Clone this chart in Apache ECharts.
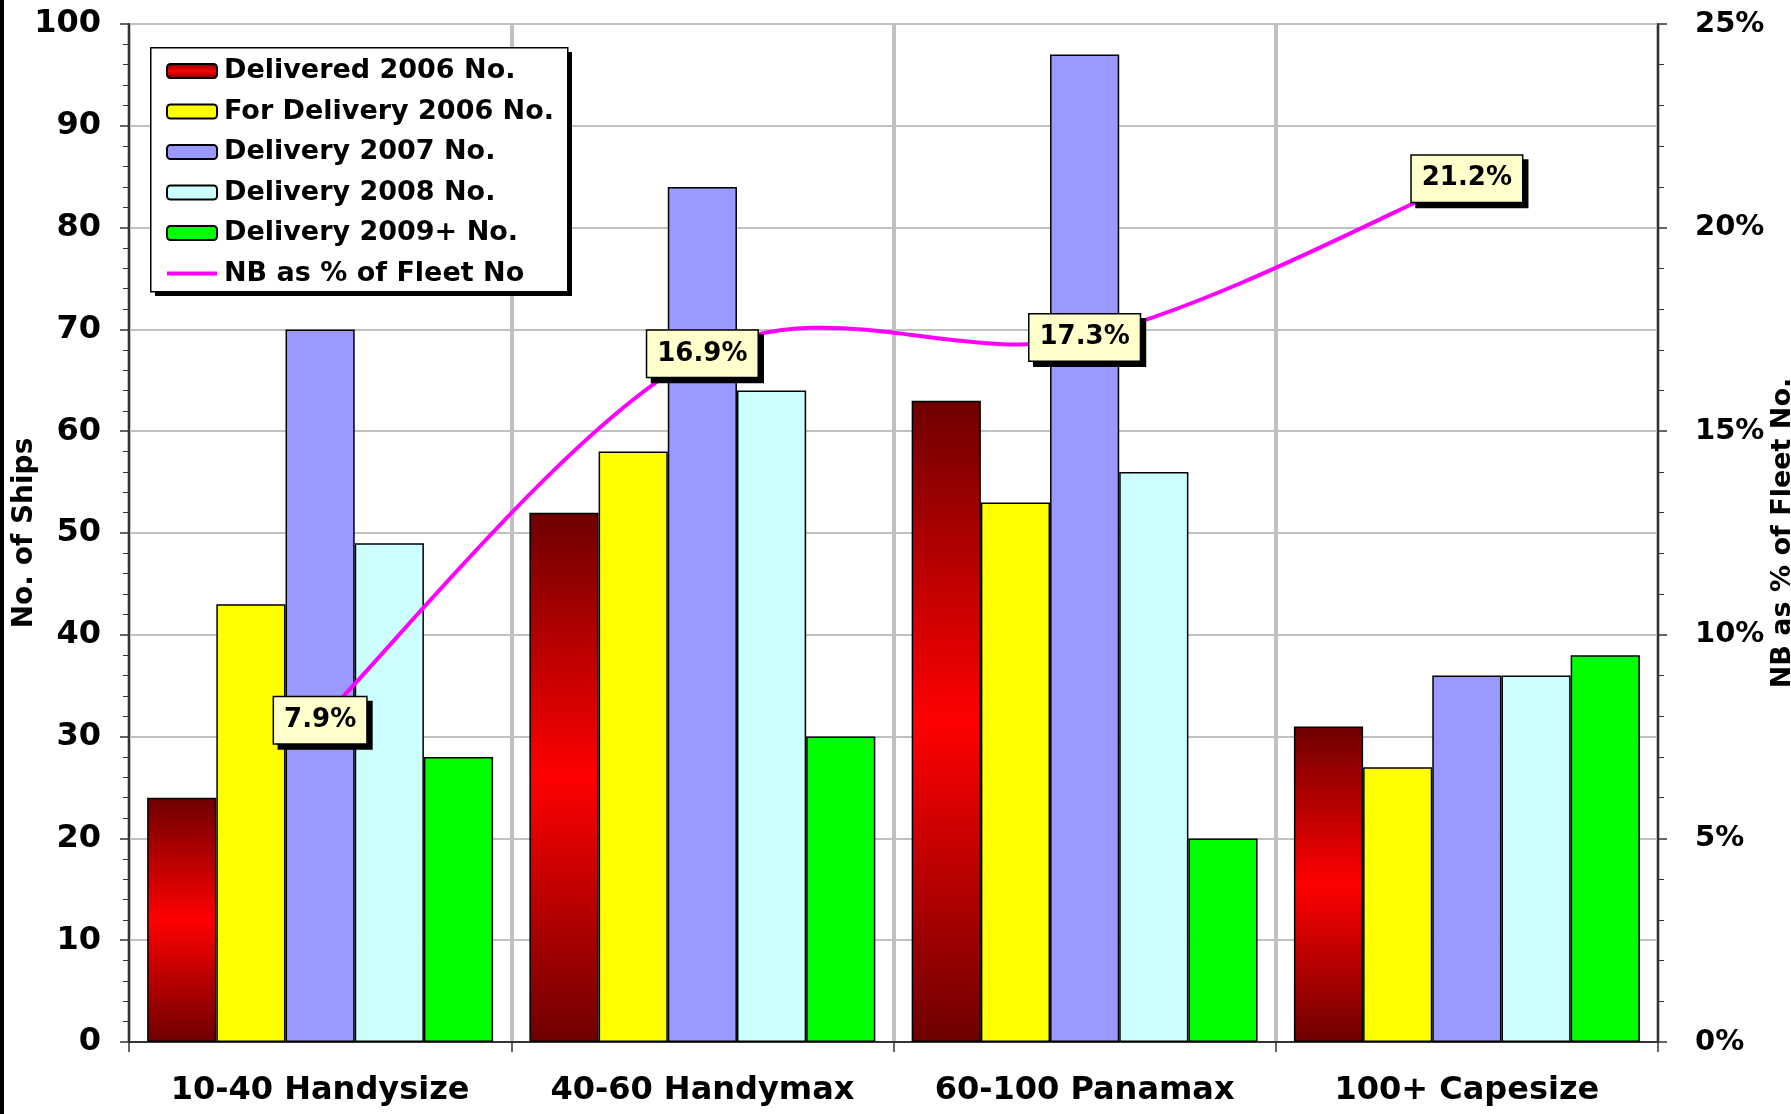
<!DOCTYPE html>
<html>
<head>
<meta charset="utf-8">
<title>Newbuilding Orderbook by Size</title>
<script src="https://cdn.jsdelivr.net/npm/echarts@6/dist/echarts.min.js"></script>
<style>
  html, body { margin: 0; padding: 0; background: #ffffff; overflow: hidden; }
  #chart { width: 1791px; height: 1114px; }
</style>
</head>
<body>
<div id="chart"></div>
<script>
// Size classes ('000 dwt)
const categories = ['10-40 Handysize', '40-60 Handymax', '60-100 Panamax', '100+ Capesize'];

// Number of ships per delivery period
const delivered2006 = [24, 52, 63, 31];
const forDelivery2006 = [43, 58, 53, 27];
const delivery2007 = [70, 84, 97, 36];
const delivery2008 = [49, 64, 56, 36];
const delivery2009 = [28, 30, 20, 38];

// Newbuildings as % of existing fleet (by number)
const nbPctFleet = [7.9, 16.9, 17.3, 21.2];

// Axis ticks
const leftTicks = { min: 0, max: 100, interval: 10 };
const rightTicks = { min: 0, max: 25, interval: 5 };

const seriesNames = [
  'Delivered 2006 No.',
  'For Delivery 2006 No.',
  'Delivery 2007 No.',
  'Delivery 2008 No.',
  'Delivery 2009+ No.',
  'NB as % of Fleet No'
];

const FONT = 'DejaVu Sans';
const LINE_COLOR = '#ff00ff';
const chart = echarts.init(document.getElementById('chart'), null, { renderer: 'canvas' });

const redGradient = new echarts.graphic.LinearGradient(0, 0, 0, 1, [
  { offset: 0, color: '#6e0000' },
  { offset: 0.5, color: '#ff0000' },
  { offset: 1, color: '#6e0000' }
]);

function barSeries(name, data, color) {
  return {
    name: name,
    type: 'bar',
    data: data,
    barGap: '0%',
    barCategoryGap: '9.5%',
    itemStyle: { color: color, borderColor: '#000000', borderWidth: 1.5 },
    emphasis: { disabled: true },
    z: 2
  };
}

// [category, value] pairs for the smoothed percentage curve
const pctPoints = nbPctFleet.map(function (v, i) { return [categories[i], v]; });

// Cardinal (Catmull-Rom) segment between point i and i+1
function renderSmoothSegment(params, api) {
  const i = params.dataIndexInside;
  const n = params.dataInsideLength;
  if (i >= n - 1) return null;
  const pt = function (k) { return api.coord([api.value(0, k), api.value(1, k)]); };
  const p0 = pt(Math.max(i - 1, 0));
  const p1 = pt(i);
  const p2 = pt(i + 1);
  const p3 = pt(Math.min(i + 2, n - 1));
  return {
    type: 'bezierCurve',
    shape: {
      x1: p1[0], y1: p1[1],
      x2: p2[0], y2: p2[1],
      cpx1: p1[0] + (p2[0] - p0[0]) / 6,
      cpy1: p1[1] + (p2[1] - p0[1]) / 6,
      cpx2: p2[0] - (p3[0] - p1[0]) / 6,
      cpy2: p2[1] - (p3[1] - p1[1]) / 6
    },
    style: { stroke: LINE_COLOR, lineWidth: 4, fill: null, lineCap: 'round' },
    silent: true
  };
}

function pctLabel(isShadow) {
  return {
    show: true,
    position: 'inside',
    offset: isShadow ? [5, 5] : [0, 0],
    formatter: function (p) { return p.value.toFixed(1) + '%'; },
    fontFamily: FONT,
    fontWeight: 'bold',
    fontSize: 26,
    lineHeight: 27,
    color: isShadow ? 'rgba(0,0,0,0)' : '#000000',
    backgroundColor: isShadow ? '#000000' : '#ffffcc',
    borderColor: '#000000',
    borderWidth: 1.5,
    padding: [10, 10, 9, 10]
  };
}

function pctLabelSeries(name, isShadow, z) {
  return {
    name: name,
    type: 'scatter',
    yAxisIndex: 1,
    data: nbPctFleet,
    symbol: 'rect',
    symbolSize: 1,
    itemStyle: { color: 'rgba(0,0,0,0)', opacity: 1 },
    silent: true,
    z: z,
    label: pctLabel(isShadow)
  };
}

// legend frame geometry
const LEG = { x: 150, y: 47, w: 417, h: 244 };

const option = {
  backgroundColor: '#ffffff',
  animation: false,
  grid: { left: 129, right: 133, top: 24, bottom: 72, containLabel: false, outerBoundsMode: 'none' },
  legend: {
    data: seriesNames.slice(0, 5).concat([{
      name: seriesNames[5],
      icon: 'path://M0,0L50,0L50,4L0,4Z',
      itemStyle: { color: LINE_COLOR, borderWidth: 0 }
    }]),
    orient: 'vertical',
    left: LEG.x,
    top: LEG.y,
    padding: [9, 12, 9, 16],
    itemWidth: 50,
    itemHeight: 14,
    itemGap: 10.5,
    backgroundColor: 'rgba(0,0,0,0)',
    borderWidth: 0,
    z: 12,
    textStyle: {
      fontFamily: FONT,
      fontWeight: 'bold',
      fontSize: 27,
      lineHeight: 30,
      color: '#000000',
      padding: [0, 0, 0, 2]
    },
    selectedMode: false
  },
  xAxis: {
    type: 'category',
    data: categories,
    boundaryGap: true,
    axisLine: { show: true, lineStyle: { color: '#333333', width: 2 } },
    axisTick: { show: true, interval: 0, length: 10, lineStyle: { color: '#333333', width: 1.5 } },
    axisLabel: {
      interval: 0,
      margin: 33,
      fontFamily: FONT,
      fontWeight: 'bold',
      fontSize: 32,
      color: '#000000'
    },
    splitLine: { show: true, interval: 0, lineStyle: { color: '#c0c0c0', width: 4 } }
  },
  yAxis: [
    {
      type: 'value',
      min: leftTicks.min,
      max: leftTicks.max,
      interval: leftTicks.interval,
      name: 'No. of Ships',
      nameLocation: 'middle',
      nameRotate: 90,
      nameGap: 90,
      nameMoveOverlap: false,
      nameTextStyle: { fontFamily: FONT, fontWeight: 'bold', fontSize: 28, color: '#000000' },
      axisLine: { show: true, lineStyle: { color: '#333333', width: 2 } },
      axisTick: { show: true, length: 9, lineStyle: { color: '#333333', width: 1.5 } },
      minorTick: { show: true, splitNumber: 5, length: 6, lineStyle: { color: '#333333', width: 1 } },
      axisLabel: { margin: 28, fontFamily: FONT, fontWeight: 'bold', fontSize: 32, color: '#000000' },
      splitLine: { show: true, lineStyle: { color: '#c0c0c0', width: 2 } }
    },
    {
      type: 'value',
      position: 'right',
      min: rightTicks.min,
      max: rightTicks.max,
      interval: rightTicks.interval,
      name: 'NB as % of Fleet No.',
      nameLocation: 'middle',
      nameRotate: 90,
      nameGap: 111,
      nameMoveOverlap: false,
      nameTextStyle: { fontFamily: FONT, fontWeight: 'bold', fontSize: 27, color: '#000000' },
      axisLine: { show: true, lineStyle: { color: '#333333', width: 2 } },
      axisTick: { show: true, length: 9, lineStyle: { color: '#333333', width: 1.5 } },
      minorTick: { show: true, splitNumber: 5, length: 6, lineStyle: { color: '#333333', width: 1 } },
      axisLabel: {
        margin: 37,
        formatter: '{value}%',
        fontFamily: FONT,
        fontWeight: 'bold',
        fontSize: 29,
        color: '#000000'
      },
      splitLine: { show: false }
    }
  ],
  series: [
    barSeries(seriesNames[0], delivered2006, redGradient),
    barSeries(seriesNames[1], forDelivery2006, '#ffff00'),
    barSeries(seriesNames[2], delivery2007, '#9999ff'),
    barSeries(seriesNames[3], delivery2008, '#ccffff'),
    barSeries(seriesNames[4], delivery2009, '#00ff00'),
    {
      name: seriesNames[5],
      type: 'custom',
      yAxisIndex: 1,
      data: pctPoints,
      encode: { x: 0, y: 1 },
      itemStyle: { color: LINE_COLOR },
      renderItem: renderSmoothSegment,
      z: 5
    },
    // value boxes on the percentage curve: drop shadow first, then the box
    pctLabelSeries('NB % label shadow', true, 6),
    pctLabelSeries('NB % labels', false, 7)
  ],
  graphic: [
    {
      // legend drop shadow
      type: 'rect',
      left: LEG.x + 5,
      top: LEG.y + 5,
      shape: { width: LEG.w, height: LEG.h },
      style: { fill: '#000000' },
      z: 10,
      silent: true
    },
    {
      // legend frame
      type: 'rect',
      left: LEG.x,
      top: LEG.y,
      shape: { width: LEG.w, height: LEG.h },
      style: { fill: '#ffffff', stroke: '#000000', lineWidth: 1.5 },
      z: 11,
      silent: true
    },
    {
      // dark frame edge on the left side
      type: 'rect',
      left: 0,
      top: 0,
      shape: { width: 4, height: 1114 },
      style: { fill: '#000000' },
      z: 100,
      silent: true
    }
  ]
};

chart.setOption(option);
</script>
</body>
</html>
